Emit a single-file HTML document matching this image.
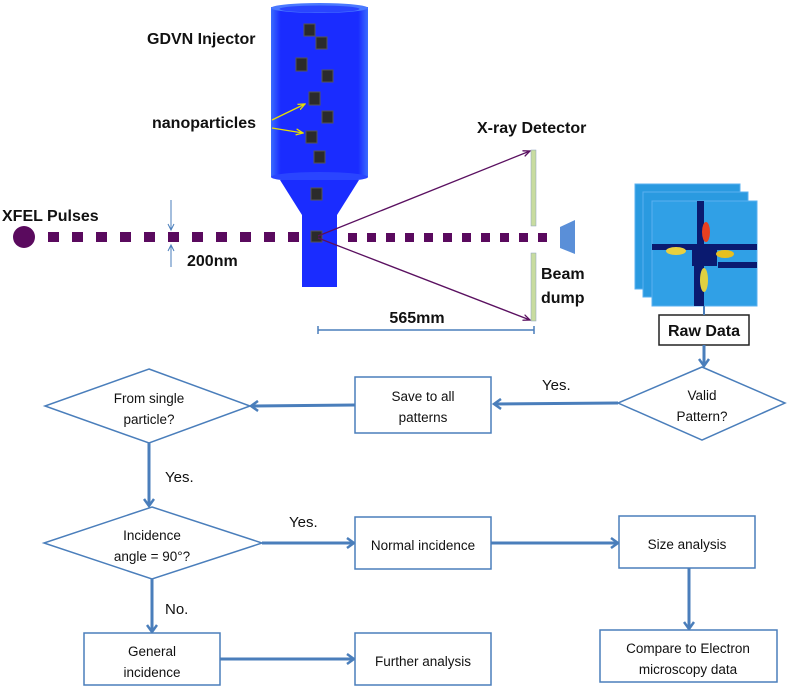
<!DOCTYPE html>
<html><head><meta charset="utf-8"><style>
html,body{margin:0;padding:0;background:#fff}
svg{display:block}
.b{font-family:"Liberation Sans",sans-serif;font-weight:bold;font-size:16px;fill:#111}
.f{font-family:"Liberation Sans",sans-serif;font-size:13.5px;fill:#111}
</style></head><body>
<svg width="787" height="688" viewBox="0 0 787 688" xmlns="http://www.w3.org/2000/svg">
<defs>
<marker id="ah" markerWidth="12" markerHeight="12" refX="9" refY="6" orient="auto" markerUnits="userSpaceOnUse"><path d="M2,1 L9,6 L2,11" fill="none" stroke="#4a7ebb" stroke-width="2.5"/></marker>
<marker id="pa" markerWidth="8" markerHeight="8" refX="7" refY="4" orient="auto" markerUnits="userSpaceOnUse"><path d="M0,1 L7,4 L0,7" fill="none" stroke="#5a1060" stroke-width="1.3"/></marker>
<marker id="ya" markerWidth="8" markerHeight="8" refX="7" refY="4" orient="auto" markerUnits="userSpaceOnUse"><path d="M0,1 L7,4 L0,7" fill="none" stroke="#e8e000" stroke-width="1.3"/></marker>
<linearGradient id="cyl" x1="0" x2="1"><stop offset="0" stop-color="#3a6cff"/><stop offset="0.1" stop-color="#1a2cff"/><stop offset="0.9" stop-color="#1a2cff"/><stop offset="1" stop-color="#3a6cff"/></linearGradient>
</defs>
<!-- injector -->
<rect x="271" y="7" width="97" height="170" fill="url(#cyl)"/>
<ellipse cx="319.5" cy="177" rx="48.5" ry="5" fill="#2a45ff"/>
<ellipse cx="319.5" cy="8" rx="48.5" ry="5" fill="#4a78ff"/>
<ellipse cx="319.5" cy="9" rx="40" ry="3.5" fill="#2a45ff"/>
<polygon points="280,180 359,180 337,215 302,215" fill="#1a2cff"/>
<rect x="302" y="215" width="35" height="72" fill="#1a2cff"/>
<g fill="#2b2b2b" stroke="#555" stroke-width="1">
<rect x="304" y="24" width="11" height="12"/><rect x="316" y="37" width="11" height="12"/>
<rect x="296" y="58" width="11" height="13"/><rect x="322" y="70" width="11" height="12"/>
<rect x="309" y="92" width="11" height="13"/><rect x="322" y="111" width="11" height="12"/>
<rect x="306" y="131" width="11" height="12"/><rect x="314" y="151" width="11" height="12"/>
<rect x="311" y="188" width="11" height="12"/>
<rect x="311" y="231" width="11" height="11"/>
</g>
<text class="b" x="147" y="44">GDVN Injector</text>
<text class="b" x="152" y="128">nanoparticles</text>
<line x1="272" y1="120" x2="305" y2="104" stroke="#e8e000" stroke-width="1.3" marker-end="url(#ya)"/>
<line x1="272" y1="128" x2="303" y2="133" stroke="#e8e000" stroke-width="1.3" marker-end="url(#ya)"/>
<!-- beam -->
<circle cx="24" cy="237" r="11" fill="#5a0a5e"/>
<g fill="#5a0a5e">
<rect x="48" y="232" width="11" height="10"/><rect x="72" y="232" width="11" height="10"/><rect x="96" y="232" width="11" height="10"/><rect x="120" y="232" width="11" height="10"/><rect x="144" y="232" width="11" height="10"/><rect x="168" y="232" width="11" height="10"/><rect x="192" y="232" width="11" height="10"/><rect x="216" y="232" width="11" height="10"/><rect x="240" y="232" width="11" height="10"/><rect x="264" y="232" width="11" height="10"/><rect x="288" y="232" width="11" height="10"/>
<rect x="348" y="233" width="9" height="9"/><rect x="367" y="233" width="9" height="9"/><rect x="386" y="233" width="9" height="9"/><rect x="405" y="233" width="9" height="9"/><rect x="424" y="233" width="9" height="9"/><rect x="443" y="233" width="9" height="9"/><rect x="462" y="233" width="9" height="9"/><rect x="481" y="233" width="9" height="9"/><rect x="500" y="233" width="9" height="9"/><rect x="519" y="233" width="9" height="9"/><rect x="538" y="233" width="9" height="9"/>
</g>
<text class="b" x="2" y="221">XFEL Pulses</text>
<g stroke="#4a7ebb" stroke-width="1" fill="none">
<line x1="171" y1="200" x2="171" y2="230"/>
<path d="M168,224 L171,230 L174,224"/>
<line x1="171" y1="245" x2="171" y2="267"/>
<path d="M168,251 L171,245 L174,251"/>
</g>
<text class="b" x="187" y="266">200nm</text>
<line x1="318" y1="236" x2="530" y2="151" stroke="#5a1060" stroke-width="1.3" marker-end="url(#pa)"/>
<line x1="318" y1="238" x2="530" y2="320" stroke="#5a1060" stroke-width="1.3" marker-end="url(#pa)"/>
<rect x="531" y="150" width="5" height="76" fill="#c8dca0" stroke="#8aa0c0" stroke-width="0.5"/>
<rect x="531" y="253" width="5" height="68" fill="#c8dca0" stroke="#8aa0c0" stroke-width="0.5"/>
<polygon points="560,227 575,220 575,254 560,248" fill="#5a8fd8"/>
<text class="b" x="477" y="133">X-ray Detector</text>
<text class="b" x="541" y="279">Beam</text>
<text class="b" x="541" y="303">dump</text>
<line x1="318" y1="330" x2="534" y2="330" stroke="#4a7ebb" stroke-width="1.5"/>
<line x1="318" y1="326" x2="318" y2="334" stroke="#4a7ebb" stroke-width="1.5"/>
<line x1="534" y1="326" x2="534" y2="334" stroke="#4a7ebb" stroke-width="1.5"/>
<text class="b" x="417" y="323" text-anchor="middle">565mm</text>
<!-- raw data stack -->
<g>
<rect x="635" y="184" width="105" height="105" fill="#2a9ae0" stroke="#5ab0f0"/>
<rect x="643" y="192" width="105" height="105" fill="#2a9ae0" stroke="#5ab0f0"/>
<rect x="652" y="201" width="105" height="105" fill="#30a0e6" stroke="#5ab0f0"/>
<rect x="697" y="201" width="7" height="105" fill="#0a1a70"/>
<rect x="652" y="244" width="105" height="6" fill="#0a1a70"/>
<rect x="692" y="244" width="25" height="22" fill="#0a1a70"/>
<rect x="718" y="262" width="39" height="6" fill="#0a1a70"/>
<rect x="694" y="262" width="6" height="44" fill="#0a1a70"/>
<ellipse cx="706" cy="232" rx="4" ry="10" fill="#e84020"/>
<ellipse cx="725" cy="254" rx="9" ry="4" fill="#e8c020"/>
<ellipse cx="676" cy="251" rx="10" ry="4" fill="#e8d040"/>
<ellipse cx="704" cy="280" rx="4" ry="12" fill="#e0d040"/>
</g>
<rect x="659" y="315" width="90" height="30" fill="#fff" stroke="#222" stroke-width="1.5"/>
<text class="b" x="704" y="336" text-anchor="middle">Raw Data</text>
<g stroke="#4a7ebb" stroke-width="3" fill="none">
<line x1="704" y1="306" x2="704" y2="315" stroke-width="2"/>
<line x1="704" y1="345" x2="704" y2="366" marker-end="url(#ah)"/>
<line x1="618" y1="403" x2="494" y2="404" marker-end="url(#ah)"/>
<line x1="355" y1="405" x2="251" y2="406" marker-end="url(#ah)"/>
<line x1="149" y1="443" x2="149" y2="506" marker-end="url(#ah)"/>
<line x1="262" y1="543" x2="354" y2="543" marker-end="url(#ah)"/>
<line x1="491" y1="543" x2="618" y2="543" marker-end="url(#ah)"/>
<line x1="689" y1="568" x2="689" y2="629" marker-end="url(#ah)"/>
<line x1="152" y1="579" x2="152" y2="632" marker-end="url(#ah)"/>
<line x1="220" y1="659" x2="354" y2="659" marker-end="url(#ah)"/>
</g>
<g fill="#fff" stroke="#4a7ebb" stroke-width="1.5">
<polygon points="702,367 785,403 702,440 618,403"/>
<rect x="355" y="377" width="136" height="56"/>
<polygon points="149,369 250,406 149,443 45,406"/>
<polygon points="152,507 262,543 152,579 44,543"/>
<rect x="355" y="517" width="136" height="52"/>
<rect x="619" y="516" width="136" height="52"/>
<rect x="600" y="630" width="177" height="52"/>
<rect x="84" y="633" width="136" height="52"/>
<rect x="355" y="633" width="136" height="52"/>
</g>
<text class="f" x="702" y="400" text-anchor="middle">Valid</text>
<text class="f" x="702" y="421" text-anchor="middle">Pattern?</text>
<text class="f" x="423" y="401" text-anchor="middle">Save to all</text>
<text class="f" x="423" y="422" text-anchor="middle">patterns</text>
<text class="f" x="149" y="403" text-anchor="middle">From single</text>
<text class="f" x="149" y="424" text-anchor="middle">particle?</text>
<text class="f" x="152" y="540" text-anchor="middle">Incidence</text>
<text class="f" x="152" y="561" text-anchor="middle">angle = 90°?</text>
<text class="f" x="423" y="550" text-anchor="middle">Normal incidence</text>
<text class="f" x="687" y="549" text-anchor="middle">Size analysis</text>
<text class="f" x="688" y="653" text-anchor="middle">Compare to Electron</text>
<text class="f" x="688" y="674" text-anchor="middle">microscopy data</text>
<text class="f" x="152" y="656" text-anchor="middle">General</text>
<text class="f" x="152" y="677" text-anchor="middle">incidence</text>
<text class="f" x="423" y="666" text-anchor="middle">Further analysis</text>
<text class="f" x="542" y="390" style="font-size:15px">Yes.</text>
<text class="f" x="165" y="482" style="font-size:15px">Yes.</text>
<text class="f" x="289" y="527" style="font-size:15px">Yes.</text>
<text class="f" x="165" y="614" style="font-size:15px">No.</text>
</svg>
</body></html>
